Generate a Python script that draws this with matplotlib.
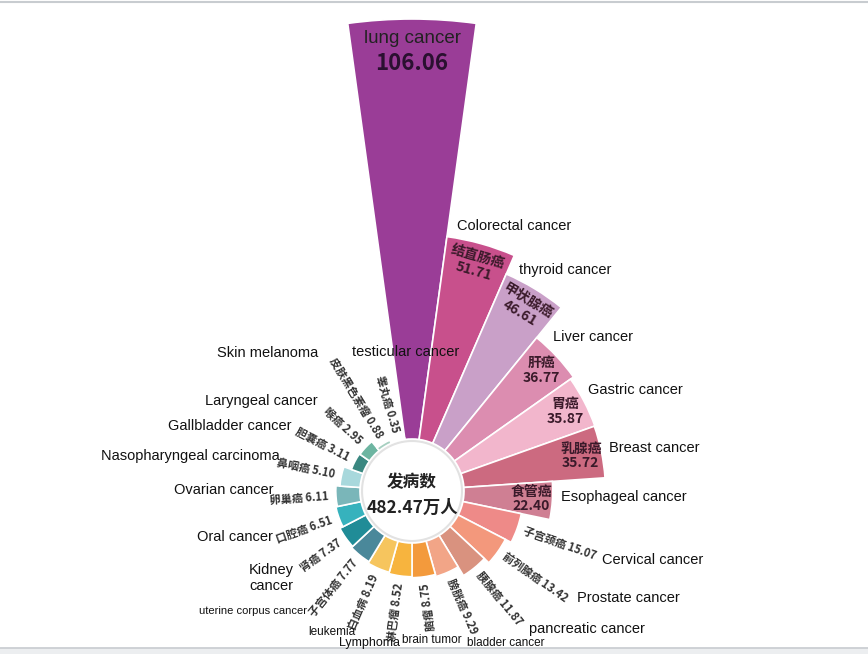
import numpy as np
import matplotlib
matplotlib.use('Agg')
from matplotlib import pyplot as plt
from matplotlib.lines import Line2D
from matplotlib.patches import Rectangle
from matplotlib.transforms import ScaledTranslation

# data, clockwise from the top
names_zh = ['肺癌', '结直肠癌', '甲状腺癌', '肝癌', '胃癌', '乳腺癌', '食管癌',
            '子宫颈癌', '前列腺癌', '胰腺癌', '膀胱癌', '脑瘤', '淋巴瘤', '白血病',
            '子宫体癌', '肾癌', '口腔癌', '卵巢癌', '鼻咽癌', '胆囊癌', '喉癌',
            '皮肤黑色素瘤', '睾丸癌']
names_en = ['lung cancer', 'Colorectal cancer', 'thyroid cancer', 'Liver cancer',
            'Gastric cancer', 'Breast cancer', 'Esophageal cancer', 'Cervical cancer',
            'Prostate cancer', 'pancreatic cancer', 'bladder cancer', 'brain tumor',
            'Lymphoma', 'leukemia', 'uterine corpus cancer', 'Kidney\ncancer',
            'Oral cancer', 'Ovarian cancer', 'Nasopharyngeal carcinoma',
            'Gallbladder cancer', 'Laryngeal cancer', 'Skin melanoma', 'testicular cancer']
values = [106.06, 51.71, 46.61, 36.77, 35.87, 35.72, 22.40, 15.07, 13.42, 11.87,
          9.29, 8.75, 8.52, 8.19, 7.77, 7.37, 6.51, 6.11, 5.10, 3.11, 2.95, 0.88, 0.35]
colors = ['#9A3D97', '#C8508C', '#C9A0C8', '#DC8DB0', '#F2B6CC', '#CC6A80', '#CF7F93',
          '#EE8A88', '#F3987C', '#D9927F', '#F2A587', '#F39A3C', '#F7B43E', '#F6C55E',
          '#4A889A', '#208C97', '#36B2BD', '#7AB6B9', '#A8D8DC', '#3A8780', '#6DB5A1',
          '#A6CFC0', '#D5E6DE']
total_label = '482.47万人'

W, H = 868, 654
CX, CY = 412, 491          # centre of the rose, pixels from top-left
PX = 3.96                  # pixels per unit of value
BASE = 52 / PX
R_AX = 490

# english label layout: (x, y, ha, size) in pixels
en_pos = [None, (457, 226, 'left', 10.5), (519, 270, 'left', 10.5), (553, 337, 'left', 10.5),
          (588, 390, 'left', 10.5), (609, 448, 'left', 10.5), (561, 497, 'left', 10.5),
          (602, 560, 'left', 10.5), (577, 598, 'left', 10.5), (529, 629, 'left', 10.5),
          (467, 643, 'left', 8.5), (402, 640, 'left', 8.5), (339, 643, 'left', 9),
          (308, 632, 'left', 8.5), (307, 611, 'right', 8), (249, 578, 'left', 10.5),
          (273, 537, 'right', 10.5), (273, 490, 'right', 10.5), (280, 456, 'right', 10.5),
          (292, 426, 'right', 10.5), (318, 401, 'right', 10.5), (318, 353, 'right', 10.5),
          (352, 352, 'left', 10.5)]

plt.rcParams['font.family'] = ['Liberation Sans', 'Noto Sans CJK SC']
CJK = ['Noto Sans CJK SC', 'DejaVu Sans']

fig = plt.figure(figsize=(W / 100, H / 100), dpi=100)
ax = fig.add_axes([(CX - R_AX) / W, (H - CY - R_AX) / H, 2 * R_AX / W, 2 * R_AX / H],
                  projection='polar')
ax.set_theta_zero_location('N')
ax.set_theta_direction(-1)

n = len(values)
theta = np.arange(n) * 2 * np.pi / n
ax.bar(theta, values, width=2 * np.pi / n, bottom=BASE, color=colors,
       edgecolor='white', linewidth=1.2)

# white centre disc
ring = np.linspace(0, 2 * np.pi, 361)
ax.fill(ring, np.full_like(ring, 50 / PX), color='white', zorder=3)
ax.plot(ring, np.full_like(ring, 50 / PX), color='#e2e2e2', lw=1.5, zorder=3)
ax.set_ylim(0, R_AX / PX)
ax.set_axis_off()

# lung label inside the big wedge
r_lung = BASE + values[0]
ax.text(0, r_lung - 19 / PX, names_en[0], ha='center', va='center', fontsize=13.5,
        color='#222222')
ax.text(0, r_lung - 44 / PX, f'{values[0]:.2f}', ha='center', va='center', fontsize=16,
        fontweight='bold', color='#2a1030', family=CJK)

# labels inside the next wedges
inner_rot = [0, -16, -31, 0, 0, 0, 0]
for i in range(1, 7):
    ax.text(theta[i], BASE + values[i] - 21 / PX, f'{names_zh[i]}\n{values[i]:.2f}',
            ha='center', va='center', fontsize=10, fontweight='bold', color='#3a1a2a',
            rotation=inner_rot[i], linespacing=1.05, family=CJK)

# radial labels outside the small wedges
for i in range(7, n):
    ang = 90 - np.degrees(theta[i])
    if i <= 10:
        rot, ha = ang, 'left'
    else:
        rot, ha = ang + 180, 'right'
    ax.text(theta[i], BASE + values[i] + 7 / PX, f'{names_zh[i]} {values[i]:.2f}',
            ha=ha, va='center', rotation=rot, rotation_mode='anchor', fontsize=8,
            fontweight='bold', color='#333333', family=CJK)

# centre text
ax.text(0, 0, '发病数', ha='center', va='center', fontsize=12, fontweight='bold',
        color='#222222', family=CJK, zorder=5,
        transform=ax.transData + ScaledTranslation(0, 9 / 100, fig.dpi_scale_trans))
ax.text(0, 0, total_label, ha='center', va='center', fontsize=12.5, fontweight='bold',
        color='#222222', family=CJK, zorder=5,
        transform=ax.transData + ScaledTranslation(0, -17 / 100, fig.dpi_scale_trans))

# english names around the chart
for i in range(1, n):
    x, y, ha, size = en_pos[i]
    fig.text(x / W, 1 - y / H, names_en[i], ha=ha, va='center', fontsize=size,
             color='#111111', linespacing=1.1)

# screenshot frame
fig.add_artist(Line2D([0, 1], [1 - 1.5 / H, 1 - 1.5 / H], color='#c8ccd0', lw=1.5))
fig.add_artist(Rectangle((0, 0), 1, 6 / H, transform=fig.transFigure, color='#eceef0'))
fig.add_artist(Line2D([0, 1], [6 / H, 6 / H], color='#c8ccd0', lw=1.2))

fig.savefig('out.png', dpi=100)
